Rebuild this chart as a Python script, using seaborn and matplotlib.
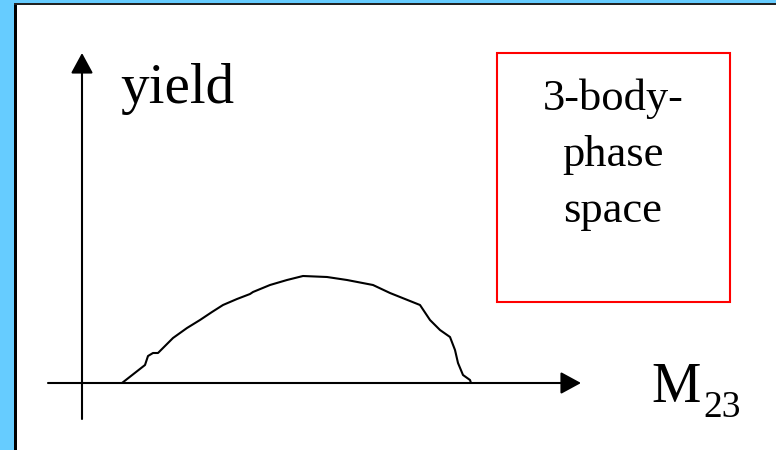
import matplotlib
matplotlib.use("Agg")
import matplotlib.pyplot as plt
import seaborn as sns
import pandas as pd
from matplotlib.patches import Rectangle

sns.set_theme(style="white")
plt.rcParams['font.family'] = ['Liberation Serif', 'DejaVu Serif']
plt.rcParams['text.color'] = 'black'

# Phase-space envelope: invariant mass M23 (arbitrary units) vs. yield
m23 = [40, 63, 66, 71, 76, 91, 105, 118, 130, 141, 155, 168, 171, 188, 205,
       221, 245, 265, 291, 308, 323, 338, 348, 358, 368, 373, 376, 381, 388, 389]
yld = [0, 18, 27, 30, 30, 45, 55, 63, 71, 78, 84, 89, 91, 98, 103,
       107, 106, 103, 98, 90, 84, 78, 63, 53, 46, 33, 20, 8, 3, 0]

y_label = "yield"
x_label = "M"
x_label_sub = "23"
box_lines = ["3-body-", "phase", "space"]

df = pd.DataFrame({"M23": m23, "yield": yld})

W, H = 776, 450
OX, OY = 82, 383  # origin of the axes cross, in pixels from top-left

fig = plt.figure(figsize=(W / 100, H / 100), dpi=100)
ax = fig.add_axes([0, 0, 1, 1])


def P(px, py):
    """pixel position (from top-left) -> data coordinates"""
    return px - OX, OY - py


# slide frame: blue strips with a dark edge
ax.add_patch(Rectangle(P(0, H), 14, H, color="#66CCFF", lw=0, clip_on=False))
ax.add_patch(Rectangle(P(0, 3), W, 3, color="#66CCFF", lw=0, clip_on=False))
ax.add_patch(Rectangle(P(14, H), 3, H - 3, color="black", lw=0, clip_on=False))
ax.add_patch(Rectangle(P(14, 5), W - 14, 2, color="#222222", lw=0, clip_on=False))

# axes arrows
arrow_kw = dict(arrowstyle="-|>,head_length=12.5,head_width=6.8",
                mutation_scale=1, lw=1.5, color="black",
                shrinkA=0, shrinkB=0)
ax.annotate("", xy=P(82, 53), xytext=P(82, 419), arrowprops=arrow_kw)
ax.annotate("", xy=P(581, 383), xytext=P(48, 383), arrowprops=arrow_kw)

# the phase-space curve
sns.lineplot(data=df, x="M23", y="yield", sort=False, color="black",
             lw=1.5, ax=ax, legend=False)
ax.set_xlim(-OX, W - OX)
ax.set_ylim(OY - H, OY)
ax.set_axis_off()

# axis labels
ax.text(*P(120, 103), y_label, fontsize=41, ha="left", va="baseline", color="black")
ax.text(*P(651, 402), x_label, fontsize=40, ha="left", va="baseline", color="black")
ax.text(*P(703, 417), x_label_sub, fontsize=27, ha="left", va="baseline", color="black")

# red annotation box
x0, y0 = P(497, 302)
ax.add_patch(Rectangle((x0, y0), 730 - 497, 302 - 53, fill=False,
                       edgecolor="#FF0000", lw=1.5))
for line, base in zip(box_lines, [110, 166, 222]):
    ax.text(*P(613, base), line, fontsize=32, ha="center", va="baseline",
            color="black")

fig.savefig("out.png", dpi=100)
